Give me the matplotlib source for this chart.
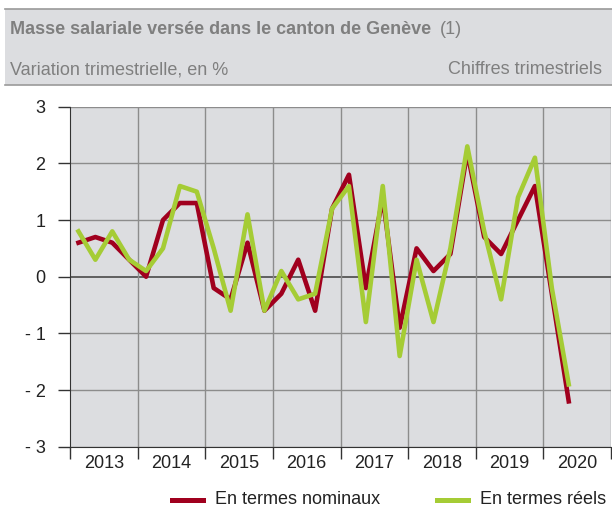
import numpy as np
import matplotlib.pyplot as plt
from matplotlib.patches import Rectangle
from matplotlib.lines import Line2D

plt.rcParams['font.family'] = ['Liberation Sans', 'DejaVu Sans']

# quarterly data, 2013 Q1 .. 2020 Q2
years = ['2013', '2014', '2015', '2016', '2017', '2018', '2019', '2020']
nominal = [0.6, 0.7, 0.6, 0.3, 0.0, 1.0, 1.3, 1.3, -0.2, -0.4, 0.6, -0.6, -0.3, 0.3, -0.6,
           1.2, 1.8, -0.2, 1.4, -0.9, 0.5, 0.1, 0.4, 2.2, 0.7, 0.4, 1.0, 1.6, -0.3, -2.2]
real = [0.8, 0.3, 0.8, 0.3, 0.1, 0.5, 1.6, 1.5, 0.5, -0.6, 1.1, -0.6, 0.1, -0.4, -0.3,
        1.2, 1.6, -0.8, 1.6, -1.4, 0.3, -0.8, 0.5, 2.3, 0.8, -0.4, 1.4, 2.1, -0.2, -1.9]

red = '#a0001e'
green = '#a5cc35'
grey_bg = '#dcdde0'
txt = '#7f7f7f'
dark = '#222222'
fs = 13

W, H = 612, 509
fig = plt.figure(figsize=(W / 100, H / 100), dpi=100)

# header band
fig.patches.append(Rectangle((5 / W, 1 - 85 / H), 1, 76 / H, transform=fig.transFigure,
                             facecolor=grey_bg, edgecolor='none', zorder=0))
fig.add_artist(Line2D([5 / W, 1], [1 - 9 / H] * 2, color='#9a9a9a', lw=1.2))
fig.add_artist(Line2D([5 / W, 1], [1 - 85 / H] * 2, color='#9a9a9a', lw=1.2))
fig.text(10 / W, 1 - 29 / H, 'Masse salariale versée dans le canton de Genève', fontsize=fs,
         fontweight='bold', color=txt, va='center', ha='left')
fig.text(440 / W, 1 - 29 / H, '(1)', fontsize=fs, color=txt, va='center', ha='left')
fig.text(10 / W, 1 - 70 / H, 'Variation trimestrielle, en %', fontsize=fs, color=txt,
         va='center', ha='left')
fig.text(602 / W, 1 - 70 / H, 'Chiffres trimestriels', fontsize=fs, color=txt,
         va='center', ha='right')

ax = fig.add_axes([70 / W, 62.3 / H, 541 / W, 340 / H])
ax.set_facecolor(grey_bg)

x = np.arange(len(nominal)) + 0.5
n_q = len(years) * 4
ax.set_xlim(0, n_q)
ax.set_ylim(-3, 3)

for yv in range(-3, 4):
    ax.axhline(yv, color='#555555' if yv == 0 else '#8c8c8c', lw=1.3 if yv == 0 else 1.0, zorder=1)
for xv in range(4, n_q + 1, 4):
    ax.axvline(xv, color='#8c8c8c', lw=1.0, zorder=1)

ax.plot(x, nominal, color=red, lw=3.3, zorder=3)
ax.plot(x, real, color=green, lw=3.3, zorder=4)

for s in ['top', 'right']:
    ax.spines[s].set_visible(False)
ax.spines['left'].set_color('#333333')
ax.spines['bottom'].set_color('#333333')

ax.set_yticks(range(-3, 4))
ax.set_yticklabels([str(v) if v >= 0 else '- ' + str(-v) for v in range(-3, 4)])
ax.tick_params(axis='y', length=8.6, width=1, color='#333333', labelsize=fs, pad=9,
               labelcolor=dark)
ax.set_xticks(range(0, n_q + 1, 4))
ax.set_xticklabels([])
ax.set_xticks(np.arange(2, n_q, 4), minor=True)
ax.set_xticklabels(years, minor=True)
ax.tick_params(axis='x', which='major', length=8.6, width=1, color='#333333')
ax.tick_params(axis='x', which='minor', length=0, labelsize=fs, pad=6, labelcolor=dark)

# legend, placed by hand
ly = 1 - 500 / H
for x0, col, lab in [(172, red, 'En termes nominaux'), (437, green, 'En termes réels')]:
    fig.add_artist(Line2D([x0 / W, (x0 + 31) / W], [ly, ly], color=col, lw=3.6))
    fig.text((x0 + 43) / W, ly, lab, fontsize=fs, color=dark, va='center', ha='left')

fig.savefig('out.png', dpi=100)
